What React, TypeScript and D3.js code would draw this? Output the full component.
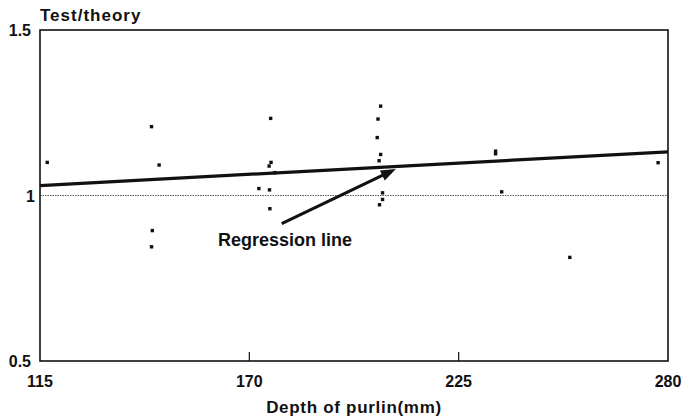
import React from 'react';
import * as d3 from 'd3';

// data
const depths = [116.9, 144.3, 146.3, 144.5, 144.3, 175.6, 175.7, 175.2, 176.7, 172.5, 175.3, 175.4,
  204.5, 203.8, 203.6, 204.5, 204.1, 207.0, 205.0, 205.0, 204.2, 234.7, 234.7, 236.3, 277.4, 254.2];
const ratios = [1.100, 1.208, 1.092, 0.894, 0.845, 1.233, 1.100, 1.089, 1.069, 1.021, 1.017, 0.960,
  1.270, 1.231, 1.175, 1.124, 1.105, 1.072, 1.008, 0.988, 0.972, 1.126, 1.134, 1.011, 1.099, 0.813];
const xTicks = [115, 170, 225, 280];
const yTicks = [0.5, 1, 1.5];
const yTickLabels = ['0.5', '1', '1.5'];
const regressionX = [115, 280];
const regressionY = [1.03, 1.132];

const W = 689;
const H = 418;
const margin = { left: 40, right: 21, top: 30, bottom: 57 };

const font = "'Liberation Sans', Arial, sans-serif";
const ink = '#111';

export default function App() {
  const x = d3.scaleLinear().domain([115, 280]).range([margin.left, W - margin.right]);
  const y = d3.scaleLinear().domain([0.5, 1.5]).range([H - margin.bottom, margin.top]);

  const regLine = d3.line<number>()
    .x((d) => x(d))
    .y((_, i) => y(regressionY[i]));

  // arrow from label to regression line
  const ax0 = x(178.5);
  const ay0 = y(0.915);
  const ax1 = x(208.5);
  const ay1 = y(1.08);
  const ang = Math.atan2(ay1 - ay0, ax1 - ax0);
  const headLen = 15;
  const headW = 5.5;
  const head = [
    [ax1, ay1],
    [ax1 - headLen * Math.cos(ang) + headW * Math.sin(ang), ay1 - headLen * Math.sin(ang) - headW * Math.cos(ang)],
    [ax1 - headLen * Math.cos(ang) - headW * Math.sin(ang), ay1 - headLen * Math.sin(ang) + headW * Math.cos(ang)],
  ];

  return (
    <svg width={W} height={H} style={{ position: 'absolute', left: 0, top: 0, background: '#fff' }}>
      {/* reference line at 1 */}
      <line x1={x(115)} x2={x(280)} y1={y(1)} y2={y(1)} stroke="#555" strokeWidth={1} strokeDasharray="1.5,1" />

      {/* frame */}
      <rect x={x(115)} y={y(1.5)} width={x(280) - x(115)} height={y(0.5) - y(1.5)}
        fill="none" stroke={ink} strokeWidth={1.6} />

      {xTicks.slice(1, -1).map((t) => (
        <line key={t} x1={x(t)} x2={x(t)} y1={y(0.5)} y2={y(0.5) - 9} stroke={ink} strokeWidth={1.2} />
      ))}

      {/* regression line */}
      <path d={regLine(regressionX) || ''} fill="none" stroke={ink} strokeWidth={3.2} />

      {/* points */}
      {depths.map((d, i) => (
        <rect key={i} x={x(d) - 1.7} y={y(ratios[i]) - 1.7} width={3.4} height={3.4} fill={ink} />
      ))}

      {/* annotation */}
      <line x1={ax0} y1={ay0} x2={ax1 - 8 * Math.cos(ang)} y2={ay1 - 8 * Math.sin(ang)} stroke={ink} strokeWidth={3} />
      <polygon points={head.map((p) => p.join(',')).join(' ')} fill={ink} />
      <text x={218} y={246} fontFamily={font} fontWeight="bold" fontSize={18} fill={ink}>Regression line</text>

      {/* axis labels */}
      {xTicks.map((t) => (
        <text key={t} x={x(t)} y={y(0.5) + 26} textAnchor="middle" fontFamily={font} fontWeight="bold" fontSize={16} fill={ink}>{t}</text>
      ))}
      {yTicks.map((t, i) => (
        <text key={t} x={i === 1 ? 35 : 31} y={y(t) + 6} textAnchor="end" fontFamily={font} fontWeight="bold" fontSize={16} fill={ink}>{yTickLabels[i]}</text>
      ))}
      <text x={40} y={21} fontFamily={font} fontWeight="bold" fontSize={17} letterSpacing={1} fill={ink}>Test/theory</text>
      <text x={(x(115) + x(280)) / 2} y={413} textAnchor="middle" fontFamily={font} fontWeight="bold" fontSize={17} letterSpacing={0.7} fill={ink}>Depth of purlin(mm)</text>
    </svg>
  );
}
